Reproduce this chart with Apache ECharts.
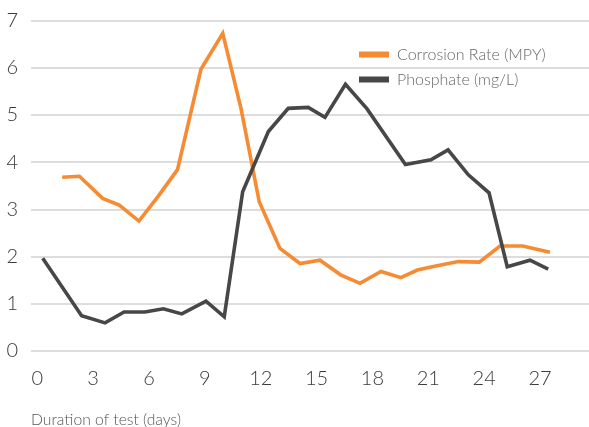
<!DOCTYPE html>
<html>
<head>
<meta charset="utf-8">
<script src="https://cdn.jsdelivr.net/npm/echarts@6/dist/echarts.min.js"></script>
<style>html,body{margin:0;padding:0;background:#fff}#c{width:589px;height:427px}</style>
</head>
<body>
<div id="c"></div>
<script>
var corrosionDays = [1.34, 2.26, 3.51, 4.40, 5.46, 6.50, 7.53, 8.79, 9.96, 10.94, 11.92, 13.03, 14.11, 15.18, 16.29, 17.33, 18.46, 19.53, 20.41, 21.47, 22.62, 23.74, 24.85, 26.07, 27.53];
var corrosionValues = [3.68, 3.70, 3.23, 3.09, 2.75, 3.28, 3.84, 5.97, 6.73, 5.14, 3.16, 2.17, 1.85, 1.92, 1.61, 1.43, 1.68, 1.55, 1.71, 1.80, 1.89, 1.88, 2.22, 2.22, 2.09];
var phosphateDays = [0.29, 2.38, 3.64, 4.66, 5.78, 6.77, 7.76, 9.06, 10.04, 11.03, 12.41, 13.48, 14.55, 15.45, 16.55, 17.71, 19.77, 21.14, 22.06, 23.15, 24.26, 25.24, 26.46, 27.44];
var phosphateValues = [1.96, 0.74, 0.59, 0.82, 0.82, 0.89, 0.78, 1.05, 0.72, 3.37, 4.65, 5.14, 5.16, 4.95, 5.65, 5.13, 3.95, 4.05, 4.26, 3.73, 3.35, 1.78, 1.92, 1.73];
var xTickLabels = [0, 3, 6, 9, 12, 15, 18, 21, 24, 27];
var yTickLabels = [0, 1, 2, 3, 4, 5, 6, 7];
var seriesNames = ['Corrosion Rate (MPY)', 'Phosphate (mg/L)'];
var xAxisTitle = 'Duration of test (days)';

function pairs(xs, ys) { return xs.map(function (x, i) { return [x, ys[i]]; }); }

var FONT = 'Lato';
var chart = echarts.init(document.getElementById('c'), null, { renderer: 'canvas' });
chart.setOption({
  animation: false,
  backgroundColor: '#ffffff',
  grid: { left: 31, right: 0, top: 20.7, bottom: 76.3 },
  legend: {
    orient: 'vertical',
    left: 359,
    top: 46.5,
    padding: 0,
    itemWidth: 30,
    itemHeight: 6,
    itemGap: 9,
    icon: 'rect',
    data: seriesNames,
    textStyle: { fontFamily: FONT, fontWeight: 300, fontSize: 16, color: '#666666', padding: [0, 0, 0, 3] }
  },
  xAxis: {
    type: 'value',
    min: -0.338,
    max: 29.63,
    axisLine: { show: false },
    axisTick: { show: false },
    splitLine: { show: false },
    axisLabel: {
      customValues: xTickLabels,
      margin: 18,
      fontFamily: FONT, fontWeight: 300, fontSize: 20, color: '#3a3a3a'
    }
  },
  yAxis: {
    type: 'value',
    min: 0,
    max: 7,
    interval: 1,
    axisLine: { show: false },
    axisTick: { show: false },
    splitLine: { show: true, lineStyle: { color: '#d2d2d2', width: 1.5 } },
    axisLabel: {
      margin: 13,
      fontFamily: FONT, fontWeight: 300, fontSize: 20, color: '#3a3a3a',
      formatter: function (v) { return yTickLabels.indexOf(v) >= 0 ? String(v) : ''; }
    }
  },
  graphic: [{
    type: 'text',
    left: 31,
    top: 412,
    style: { text: xAxisTitle, fontFamily: FONT, fontWeight: 300, fontSize: 15.7, fill: '#555555' }
  }],
  series: [
    {
      name: seriesNames[0],
      type: 'line',
      data: pairs(corrosionDays, corrosionValues),
      showSymbol: false,
      color: '#F68B33',
      lineStyle: { width: 3.6, color: '#F68B33', join: 'miter' }
    },
    {
      name: seriesNames[1],
      type: 'line',
      data: pairs(phosphateDays, phosphateValues),
      showSymbol: false,
      color: '#474747',
      lineStyle: { width: 3.6, color: '#474747', join: 'miter' }
    }
  ]
});
</script>
</body>
</html>
